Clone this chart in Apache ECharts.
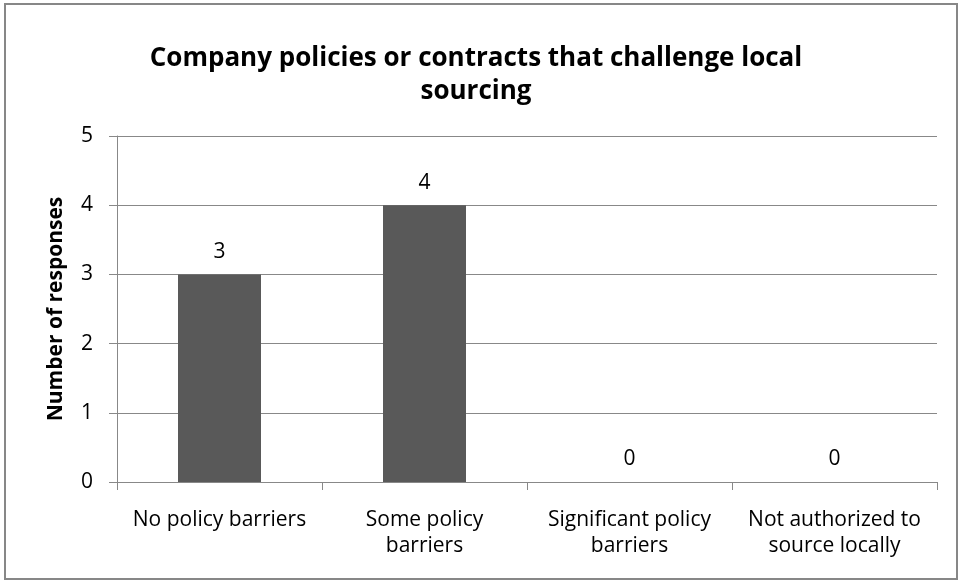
<!DOCTYPE html>
<html>
<head>
<meta charset="utf-8">
<script src="https://cdn.jsdelivr.net/npm/echarts@6/dist/echarts.min.js"></script>
<style>
  html, body { margin: 0; padding: 0; background: #fff; }
  #chart { width: 963px; height: 583px; }
</style>
</head>
<body>
<div id="chart"></div>
<script>
var categories = ['No policy barriers', 'Some policy\nbarriers', 'Significant policy\nbarriers', 'Not authorized to\nsource locally'];
var responses = [3, 4, 0, 0];
var yTicks = [0, 1, 2, 3, 4, 5];

var font = '"Open Sans", "Liberation Sans", Arial, sans-serif';
var chart = echarts.init(document.getElementById('chart'));

chart.setOption({
    animation: false,
    textStyle: { fontFamily: font },
    title: {
        text: 'Company policies or contracts that challenge local\nsourcing',
        left: 471,
        textAlign: 'center',
        top: 37,
        textStyle: { fontSize: 26, fontWeight: 'bold', color: '#000', lineHeight: 33, fontFamily: font }
    },
    graphic: [{
        type: 'rect',
        shape: { x: 5, y: 4, width: 952, height: 575 },
        style: { fill: 'none', stroke: '#878787', lineWidth: 2 },
        silent: true
    }],
    grid: { left: 117, right: 26, top: 136, bottom: 101 },
    xAxis: {
        type: 'category',
        data: categories,
        axisLine: { lineStyle: { color: '#888', width: 1 } },
        axisTick: { show: true, length: 8, lineStyle: { color: '#888' } },
        axisLabel: { color: '#000', fontSize: 21, lineHeight: 26, margin: 25, interval: 0, fontFamily: font }
    },
    yAxis: {
        type: 'value',
        min: yTicks[0],
        max: yTicks[yTicks.length - 1],
        interval: 1,
        name: 'Number of responses',
        nameLocation: 'middle',
        nameGap: 50,
        nameTextStyle: { fontSize: 21, fontWeight: 'bold', color: '#000', fontFamily: font },
        axisLine: { show: true, lineStyle: { color: '#888' } },
        axisTick: { show: true, length: 8, lineStyle: { color: '#888' } },
        axisLabel: { color: '#000', fontSize: 21, margin: 24, fontFamily: font },
        splitLine: { lineStyle: { color: '#888', width: 1 } }
    },
    series: [{
        type: 'bar',
        data: responses,
        barWidth: 83,
        itemStyle: { color: '#595959' },
        label: { show: true, position: 'top', distance: 12, color: '#000', fontSize: 21, fontFamily: font }
    }]
});
</script>
</body>
</html>
